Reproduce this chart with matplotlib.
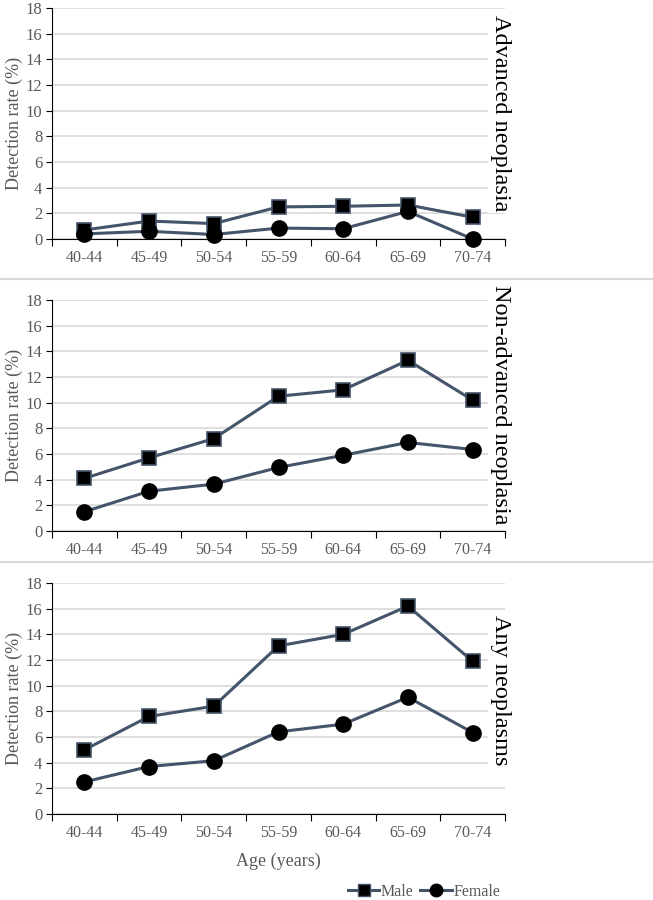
import numpy as np
import matplotlib.pyplot as plt
from matplotlib.lines import Line2D

plt.rcParams['font.family'] = ['Liberation Serif', 'DejaVu Serif']

ages = ['40-44', '45-49', '50-54', '55-59', '60-64', '65-69', '70-74']
panel_titles = ['Advanced neoplasia', 'Non-advanced neoplasia', 'Any neoplasms']

male_advanced = [0.7, 1.4, 1.2, 2.5, 2.55, 2.65, 1.7]
female_advanced = [0.4, 0.6, 0.35, 0.85, 0.8, 2.15, 0.0]
male_nonadv = [4.1, 5.7, 7.2, 10.5, 11.0, 13.3, 10.2]
female_nonadv = [1.5, 3.1, 3.65, 4.95, 5.9, 6.9, 6.35]
male_any = [5.0, 7.6, 8.4, 13.1, 14.0, 16.2, 11.9]
female_any = [2.5, 3.7, 4.15, 6.4, 7.0, 9.1, 6.35]

males = [male_advanced, male_nonadv, male_any]
females = [female_advanced, female_nonadv, female_any]

line_col = '#44546A'
grey = '#595959'

fig = plt.figure(figsize=(6.53, 9), dpi=100)
# (bottom, top) of each panel in pixels from top
rows = [(239, 8), (531, 300), (814, 583)]
title_tops = [15, 285, 615]
x = np.arange(len(ages))

for i in range(3):
    b, t = rows[i]
    ax = fig.add_axes([52 / 653, 1 - b / 900, (505 - 52) / 653, (b - t) / 900])
    ax.plot(x, males[i], color=line_col, lw=2.2, marker='s', ms=10,
            mfc='black', mec=line_col, mew=1.2, zorder=3, clip_on=False)
    ax.plot(x, females[i], color=line_col, lw=2.2, marker='o', ms=11,
            mfc='black', mec='black', zorder=3, clip_on=False)
    ax.set_xlim(-0.5, 6.5)
    ax.set_ylim(0, 18)
    ax.set_yticks(range(0, 19, 2))
    ax.yaxis.grid(True, color='#d9d9d9', lw=1.2)
    ax.set_axisbelow(True)
    ax.set_xticks(np.arange(-0.5, 7, 1))
    ax.set_xticklabels([])
    ax.set_xticks(x, minor=True)
    ax.set_xticklabels(ages, minor=True)
    ax.tick_params(axis='x', which='minor', length=0, pad=8, labelsize=11.5, labelcolor=grey)
    ax.tick_params(axis='x', which='major', length=5, color='black')
    ax.tick_params(axis='y', length=4, labelsize=12, labelcolor=grey, pad=3)
    for s in ['top', 'right']:
        ax.spines[s].set_visible(False)
    ax.spines['left'].set_color('black')
    ax.spines['bottom'].set_color('black')
    ax.set_ylabel('Detection rate (%)', fontsize=13, color=grey, labelpad=2)
    fig.text(500 / 653, 1 - title_tops[i] / 900, panel_titles[i], rotation=-90,
             fontsize=17.5, ha='center', va='top', color='black',
             bbox=dict(facecolor='white', edgecolor='none', pad=1))
    if i == 2:
        ax.set_xlabel('Age (years)', fontsize=13, color=grey, labelpad=8)

for yy in [279, 562]:
    fig.add_artist(Line2D([0, 1], [1 - yy / 900] * 2, color='#d9d9d9', lw=1.5))

handles = [Line2D([], [], color=line_col, lw=2.2, marker='s', ms=8, mfc='black', mec=line_col),
           Line2D([], [], color=line_col, lw=2.2, marker='o', ms=9, mfc='black', mec='black')]
fig.legend(handles, ['Male', 'Female'], loc='center right', bbox_to_anchor=(515 / 653, 1 - 892 / 900),
           ncol=2, frameon=False, fontsize=11.5, handlelength=2.0, handletextpad=0.1,
           columnspacing=0.4, labelcolor=grey)

fig.savefig('out.png', dpi=100)
